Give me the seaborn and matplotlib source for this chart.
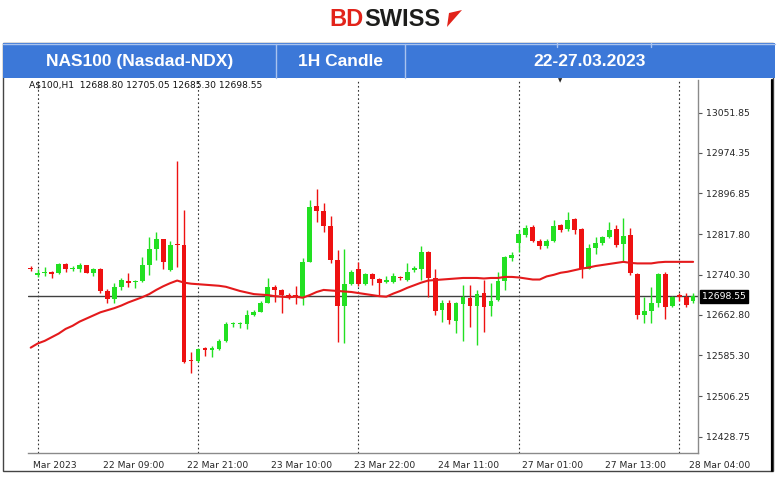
import matplotlib
matplotlib.use("Agg")
import matplotlib.pyplot as plt
import matplotlib.transforms as mtransforms
from matplotlib.patches import Rectangle, Polygon
from matplotlib.lines import Line2D
import pandas as pd
import seaborn as sns

# hourly candles, 22-28 Mar 2023
opens = [12753, 12740, 12743, 12745, 12744, 12760, 12751, 12752, 12758, 12744,
         12752, 12709, 12693, 12716, 12728, 12726, 12729, 12759, 12789, 12808,
         12749, 12799, 12798, 12576, 12575, 12598, 12596, 12597, 12613, 12645,
         12645, 12646, 12663, 12669, 12685, 12717, 12710, 12701, 12700, 12698,
         12765, 12872, 12863, 12834, 12768, 12680, 12722, 12752, 12722, 12741,
         12732, 12726, 12727, 12736, 12731, 12750, 12751, 12783, 12733, 12672,
         12685, 12652, 12684, 12695, 12680, 12706, 12680, 12692, 12728, 12772,
         12801, 12817, 12832, 12806, 12795, 12806, 12836, 12828, 12847, 12829,
         12752, 12792, 12801, 12812, 12828, 12799, 12817, 12742, 12663, 12671,
         12686, 12741, 12680, 12701, 12697, 12688.80]
highs = [12757, 12752, 12755, 12748, 12762, 12762, 12757, 12762, 12759, 12753,
         12753, 12712, 12724, 12734, 12743, 12731, 12774, 12812, 12822, 12809,
         12805, 12958, 12865, 12592, 12599, 12602, 12603, 12616, 12650, 12649,
         12649, 12672, 12673, 12690, 12733, 12720, 12712, 12705, 12718, 12772,
         12883, 12906, 12879, 12853, 12788, 12789, 12750, 12765, 12744, 12744,
         12733, 12738, 12743, 12738, 12762, 12757, 12796, 12785, 12752, 12692,
         12692, 12688, 12720, 12720, 12711, 12731, 12724, 12746, 12776, 12784,
         12826, 12836, 12836, 12808, 12808, 12845, 12838, 12860, 12849, 12831,
         12799, 12813, 12815, 12842, 12836, 12849, 12831, 12744, 12698, 12717,
         12743, 12746, 12700, 12706, 12706, 12705.05]
lows = [12747, 12735, 12737, 12733, 12741, 12745, 12748, 12746, 12743, 12738,
        12706, 12685, 12686, 12711, 12717, 12715, 12727, 12740, 12768, 12751,
        12747, 12756, 12570, 12551, 12573, 12583, 12582, 12595, 12611, 12640,
        12637, 12636, 12661, 12668, 12685, 12688, 12666, 12694, 12684, 12682,
        12765, 12842, 12823, 12762, 12610, 12608, 12720, 12718, 12720, 12720,
        12701, 12724, 12725, 12730, 12729, 12745, 12731, 12698, 12662, 12650,
        12645, 12629, 12613, 12640, 12606, 12631, 12661, 12690, 12711, 12767,
        12784, 12812, 12804, 12789, 12792, 12804, 12822, 12824, 12818, 12733,
        12751, 12781, 12797, 12810, 12794, 12765, 12740, 12656, 12648, 12648,
        12679, 12656, 12678, 12690, 12679, 12685.30]
closes = [12751, 12743, 12745, 12741, 12760, 12751, 12754, 12759, 12744, 12752,
          12709, 12693, 12716, 12730, 12725, 12729, 12759, 12789, 12808, 12765,
          12798, 12797, 12573, 12574, 12597, 12596, 12599, 12613, 12645, 12647,
          12647, 12663, 12669, 12685, 12717, 12711, 12701, 12699, 12698, 12765,
          12871, 12863, 12834, 12768, 12680, 12722, 12746, 12722, 12741, 12732,
          12724, 12731, 12737, 12734, 12745, 12752, 12783, 12733, 12670, 12686,
          12653, 12685, 12698, 12680, 12704, 12679, 12690, 12728, 12774, 12778,
          12818, 12831, 12806, 12795, 12806, 12834, 12826, 12845, 12827, 12752,
          12792, 12801, 12812, 12826, 12797, 12815, 12743, 12663, 12671, 12686,
          12741, 12679, 12698, 12697, 12682, 12698.55]
# moving average line as drawn on the chart
ma_values = [12600, 12608, 12613, 12620, 12627, 12636, 12642, 12650, 12656, 12662,
             12668, 12672, 12676, 12681, 12687, 12692, 12697, 12703, 12711, 12718,
             12724, 12729, 12725, 12723, 12722, 12721, 12720, 12719, 12717, 12713,
             12709, 12706, 12703, 12702, 12701, 12699, 12698, 12697, 12698, 12696,
             12701, 12707, 12711, 12710, 12709, 12708, 12707, 12705, 12703, 12701,
             12699, 12698, 12704, 12709, 12715, 12720, 12725, 12729, 12730, 12731,
             12732, 12733, 12734, 12734, 12734, 12733, 12734, 12734, 12736, 12736,
             12735, 12733, 12731, 12731, 12737, 12740, 12744, 12746, 12749, 12752,
             12754, 12757, 12759, 12761, 12763, 12765, 12763, 12762, 12762, 12762,
             12764, 12765, 12765, 12765, 12765, 12765]

day_starts = [1, 24, 47, 70, 93]
time_ticks = [0, 10, 22, 34, 46, 58, 70, 82, 94]
time_labels = ["Mar 2023", "22 Mar 09:00", "22 Mar 21:00", "23 Mar 10:00", "23 Mar 22:00",
               "24 Mar 11:00", "27 Mar 01:00", "27 Mar 13:00", "28 Mar 04:00"]
price_ticks = [13051.85, 12974.35, 12896.85, 12817.80, 12740.30,
               12662.80, 12585.30, 12506.25, 12428.75]
last_price = 12698.55
header_cells = ["NAS100 (Nasdad-NDX)", "1H Candle", "22-27.03.2023"]
info_line = "A$100,H1  12688.80 12705.05 12685.30 12698.55"

W, H = 780, 482
BULL = '#22e022'
BEAR = '#ee1111'


def fx(x):
    return x / W


def fy(y):
    return 1 - y / H


sns.set_style("white")
plt.rcParams['font.family'] = ['DejaVu Sans']

df = pd.DataFrame({'bar': range(len(opens)), 'open': opens, 'high': highs,
                   'low': lows, 'close': closes, 'ma': ma_values})
df['up'] = df['close'] >= df['open']
df['color'] = df['up'].map({True: BULL, False: BEAR})
df['body_lo'] = df[['open', 'close']].min(axis=1)
df['body_h'] = (df['close'] - df['open']).abs().clip(lower=2.4)

fig = plt.figure(figsize=(7.8, 4.82), dpi=100)
ax = fig.add_axes([fx(28), fy(453), fx(698 - 28), (453 - 80) / H])

# day separators and current price line
for d in day_starts:
    ax.axvline(d, color='#333333', lw=0.8, ls=(0, (1.5, 2.2)), zorder=0)
ax.axhline(last_price, color='#404040', lw=1.0, zorder=1)

# candles
ax.vlines(df['bar'], df['low'], df['high'], colors=df['color'], lw=1.0, zorder=2)
ax.bar(df['bar'], df['body_h'], bottom=df['body_lo'], width=0.68,
       color=df['color'], lw=0, zorder=3)

# moving average
sns.lineplot(data=df, x='bar', y='ma', color='#e41a1c', lw=1.5, ax=ax,
             legend=False, zorder=4)

ax.set_xlim(-0.39, 95.7)
ax.set_ylim(12397.4, 13114.7)
ax.set_xlabel('')
ax.set_ylabel('')

for s in ['top', 'left']:
    ax.spines[s].set_visible(False)
for s in ['bottom', 'right']:
    ax.spines[s].set_color('#8a8a8a')
    ax.spines[s].set_linewidth(1.0)

ax.set_xticks(time_ticks)
ax.set_xticklabels(time_labels, fontsize=6.6)
ax.tick_params(axis='x', length=4, width=0.8, color='#555555', pad=2)
shift = mtransforms.ScaledTranslation(2 / 72, 0, fig.dpi_scale_trans)
for lab in ax.get_xticklabels():
    lab.set_horizontalalignment('left')
    lab.set_transform(lab.get_transform() + shift)

ax.yaxis.tick_right()
ax.set_yticks(price_ticks)
ax.set_yticklabels([f"{v:.2f}" for v in price_ticks], fontsize=6.7)
ax.tick_params(axis='y', length=3, width=0.8, color='#555555', pad=3)

# current price box
blend = mtransforms.blended_transform_factory(ax.transAxes, ax.transData)
ax.text(1.006, last_price, f"{last_price:.2f}", transform=blend, fontsize=6.7,
        color='white', va='center', ha='left',
        bbox=dict(fc='black', ec='black', pad=1.4))

ax.text(0.002, 0.998, info_line, transform=ax.transAxes, fontsize=6.6,
        va='top', ha='left', color='#111111')
fig.text(fx(560), fy(81), '\u25bc', fontsize=4, ha='center', va='center')

# outer frame
fig.add_artist(Rectangle((fx(3), fy(471)), fx(770), (471 - 43) / H,
                         transform=fig.transFigure, fc='none', ec='#444444', lw=1))
fig.add_artist(Line2D([fx(772), fx(772)], [fy(80), fy(471)], color='black', lw=1.6))

# header bar
fig.add_artist(Rectangle((fx(3), fy(78)), fx(772), 35 / H,
                         transform=fig.transFigure, fc='#3c78d8', ec='none'))
fig.add_artist(Line2D([fx(3), fx(775)], [fy(44), fy(44)], color='#a9c3ee', lw=1))
for xd in [276, 405]:
    fig.add_artist(Line2D([fx(xd), fx(xd)], [fy(44), fy(78)], color='#a9c3ee', lw=1))
for xd in [557, 651]:
    fig.add_artist(Line2D([fx(xd), fx(xd)], [fy(43), fy(47)], color='#a9c3ee', lw=1))
for txt, xc in zip(header_cells, [140, 340, 590]):
    fig.text(fx(xc), fy(61.5), txt, color='white', fontsize=12.5, fontweight='bold',
             family=['Liberation Sans Narrow', 'Liberation Sans'],
             ha='center', va='center')

# logo
fig.text(fx(364), fy(19), 'BD', color='#e2231a', fontsize=17, fontweight='bold',
         family=['Liberation Sans'], ha='right', va='center')
fig.text(fx(364), fy(19), 'SWISS', color='#1d1d1b', fontsize=17, fontweight='bold',
         family=['Liberation Sans'], ha='left', va='center')
fig.add_artist(Polygon([(fx(447), fy(27)), (fx(462), fy(10)), (fx(449), fy(13))],
                       closed=True, transform=fig.transFigure, fc='#e2231a', ec='none'))

fig.savefig('out.png', dpi=100)
plt.close(fig)
